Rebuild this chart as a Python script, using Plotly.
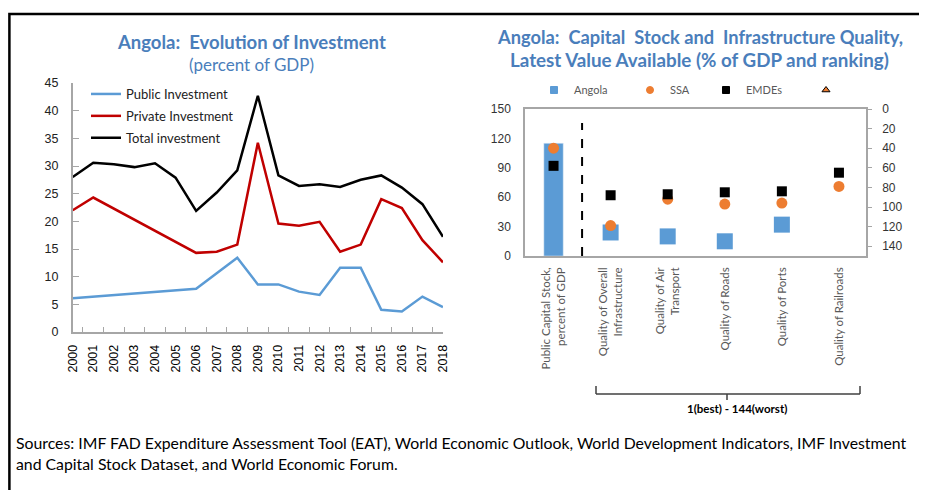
import plotly.graph_objects as go

W, H = 927, 490
OFF = 8  # page body margin

# ---------------- data ----------------
years = [str(y) for y in range(2000, 2019)]
public_inv = [6.1, None, None, None, None, None, 7.8, 10.6, 13.4, 8.6, 8.6, 7.3, 6.7, 11.6, 11.6, 4.0, 3.7, 6.4, 4.5]
private_inv = [22.0, 24.3, None, None, None, None, 14.3, 14.5, 15.8, 34.2, 19.6, 19.2, 19.9, 14.5, 15.8, 24.0, 22.4, 16.6, 12.6]
total_inv = [28.0, 30.6, 30.3, 29.8, 30.5, 27.9, 21.9, 25.2, 29.2, 42.7, 28.3, 26.4, 26.7, 26.2, 27.5, 28.3, 26.1, 23.1, 17.2]

infra_cats = ["Public Capital Stock,<br>percent of GDP", "Quality of Overall<br>Infrastructure",
              "Quality of Air<br>Transport", "Quality of Roads", "Quality of Ports", "Quality of Railroads"]
stock_angola = [115]
stock_ssa = [110]
stock_emdes = [92]
rank_angola = [126, 130, 135, 118, None]
rank_ssa = [119, 92, 97, 96, 79]
rank_emdes = [88, 87, 85, 84, 65]

left_ticks = list(range(0, 46, 5))
right_left_ticks = list(range(0, 151, 30))
right_rank_ticks = list(range(0, 141, 20))

# ---------------- helpers ----------------
def px(x):
    return (x - OFF) / W

def py(y):
    return 1 - (y - OFF) / H

BLUE = "#5B9BD5"
RED = "#C00000"
ORANGE = "#ED7D31"
TITLE = "#4A7EBB"
AXIS = "#A6A6A6"
HUM = "Lato, Noto Sans, sans-serif"
SANS = "Liberation Sans, Arial, sans-serif"

fig = go.Figure()

# ---------------- left chart ----------------
fig.add_trace(go.Scatter(x=years, y=public_inv, name="Public Investment", mode="lines",
                         line=dict(color=BLUE, width=2.5), connectgaps=True,
                         xaxis="x", yaxis="y", legend="legend", legendgroup="a"))
fig.add_trace(go.Scatter(x=years, y=private_inv, name="Private Investment", mode="lines",
                         line=dict(color=RED, width=2.5), connectgaps=True,
                         xaxis="x", yaxis="y", legend="legend", legendgroup="b"))
fig.add_trace(go.Scatter(x=years, y=total_inv, name="Total investment", mode="lines",
                         line=dict(color="black", width=2.5), connectgaps=True,
                         xaxis="x", yaxis="y", legend="legend", legendgroup="c"))

# ---------------- right chart ----------------
fig.add_trace(go.Bar(x=infra_cats[:1], y=stock_angola, marker=dict(color=BLUE), width=0.34,
                     xaxis="x2", yaxis="y2", showlegend=False))
fig.add_trace(go.Scatter(x=infra_cats[1:], y=rank_angola, mode="markers",
                         marker=dict(symbol="square", size=16, color=BLUE),
                         xaxis="x2", yaxis="y3", showlegend=False))
fig.add_trace(go.Scatter(x=infra_cats[:1], y=stock_ssa, mode="markers",
                         marker=dict(symbol="circle", size=11, color=ORANGE),
                         xaxis="x2", yaxis="y2", showlegend=False))
fig.add_trace(go.Scatter(x=infra_cats[1:], y=rank_ssa, mode="markers",
                         marker=dict(symbol="circle", size=11, color=ORANGE),
                         xaxis="x2", yaxis="y3", showlegend=False))
fig.add_trace(go.Scatter(x=infra_cats[:1], y=stock_emdes, mode="markers",
                         marker=dict(symbol="square", size=10, color="black"),
                         xaxis="x2", yaxis="y2", showlegend=False))
fig.add_trace(go.Scatter(x=infra_cats[1:], y=rank_emdes, mode="markers",
                         marker=dict(symbol="square", size=10, color="black"),
                         xaxis="x2", yaxis="y3", showlegend=False))

# legend-only entries for the right chart, one small legend each
leg_items = [("Angola", "square", BLUE, None, 534), ("SSA", "circle", ORANGE, None, 630),
             ("EMDEs", "square", "black", None, 706), (" ", "triangle-up", ORANGE, "black", 806)]
legend_layouts = {}
for i, (nm, sym, col, ln, lx) in enumerate(leg_items):
    lid = "legend%d" % (i + 2)
    fig.add_trace(go.Scatter(x=[None], y=[None], mode="markers", name=nm,
                             marker=dict(symbol=sym, size=7, color=col,
                                         line=dict(color=ln or col, width=1)),
                             xaxis="x2", yaxis="y2", legend=lid))
    legend_layouts[lid] = dict(xref="container", yref="container", x=px(lx), y=py(90),
                               xanchor="left", yanchor="middle", bgcolor="rgba(0,0,0,0)",
                               font=dict(family=HUM, size=11, color="#595959"), itemwidth=30)

shapes = []
# outer frame (left edge sits at the very first pixels of the figure)
shapes.append(dict(type="rect", xref="paper", yref="paper", x0=1.4 / W, x1=1.05, y0=-0.05, y1=py(14),
                   line=dict(color="black", width=2.5)))
# dashed divider
shapes.append(dict(type="line", xref="x2", yref="paper", x0=0.5, x1=0.5, y0=py(256), y1=py(123),
                   line=dict(color="black", width=2, dash="dash")))
# bracket
bx0, bx1, by, bc = 596, 860, 394, 727
shapes.append(dict(type="line", xref="paper", yref="paper", x0=px(bx0), x1=px(bx1), y0=py(by), y1=py(by),
                   line=dict(color="#404040", width=1.5)))
shapes.append(dict(type="line", xref="paper", yref="paper", x0=px(bx0), x1=px(bx0), y0=py(by), y1=py(386),
                   line=dict(color="#404040", width=1.5)))
shapes.append(dict(type="line", xref="paper", yref="paper", x0=px(bx1), x1=px(bx1), y0=py(by), y1=py(386),
                   line=dict(color="#404040", width=1.5)))
shapes.append(dict(type="line", xref="paper", yref="paper", x0=px(bc), x1=px(bc), y0=py(by), y1=py(400),
                   line=dict(color="#404040", width=1.5)))

annotations = [
    dict(text="<b>Angola:  Evolution of Investment</b>", x=px(251), y=py(42), xref="paper", yref="paper",
         showarrow=False, font=dict(family=HUM, size=18.5, color=TITLE), xanchor="center", yanchor="middle"),
    dict(text="(percent of GDP)", x=px(251), y=py(64), xref="paper", yref="paper",
         showarrow=False, font=dict(family=HUM, size=17, color=TITLE), xanchor="center", yanchor="middle"),
    dict(text="<b>Angola:  Capital  Stock and  Infrastructure Quality,</b>", x=px(700), y=py(37),
         xref="paper", yref="paper", showarrow=False, font=dict(family=HUM, size=18.3, color=TITLE),
         xanchor="center", yanchor="middle"),
    dict(text="<b>Latest Value Available (% of GDP and ranking)</b>", x=px(699), y=py(60),
         xref="paper", yref="paper", showarrow=False, font=dict(family=HUM, size=18.8, color=TITLE),
         xanchor="center", yanchor="middle"),
    dict(text="<b>1(best) - 144(worst)</b>", x=px(737), y=py(408), xref="paper", yref="paper",
         showarrow=False, font=dict(family=HUM, size=11.5, color="black"), xanchor="center", yanchor="middle"),
    dict(text="Sources: IMF FAD Expenditure Assessment Tool (EAT), World Economic Outlook, World Development Indicators, IMF Investment<br>"
              "and Capital Stock Dataset, and World Economic Forum.",
         x=px(14), y=py(431), xref="paper", yref="paper", showarrow=False, align="left",
         font=dict(family=HUM, size=15.8, color="black"), xanchor="left", yanchor="top"),
]

fig.update_layout(
    width=W, height=H, autosize=False,
    margin=dict(l=0, r=0, t=0, b=0, autoexpand=False),
    paper_bgcolor="white", plot_bgcolor="white",
    xaxis=dict(domain=[px(72.7), px(443)], anchor="y", type="category", categoryorder="array",
               categoryarray=years, tickangle=-90, ticks="inside", ticklen=5, tickcolor=AXIS,
               tickson="boundaries", showline=True, linecolor=AXIS, linewidth=1.5, showgrid=False,
               tickfont=dict(family=SANS, size=12.5, color="black"), ticklabelstandoff=6, zeroline=False),
    yaxis=dict(domain=[py(332), py(83)], anchor="x", range=[0, 45], tickvals=left_ticks,
               ticks="inside", ticklen=7, tickcolor=AXIS, showline=True, linecolor=AXIS, linewidth=1.5,
               showgrid=False, zeroline=False, tickfont=dict(family=SANS, size=12.5, color="#222"),
               ticklabelstandoff=10),
    xaxis2=dict(domain=[px(525), px(866)], anchor="y2", type="category", categoryorder="array",
                categoryarray=infra_cats, tickangle=-90, ticks="", showline=True, mirror=True,
                linecolor=AXIS, linewidth=1.5, showgrid=False, zeroline=False,
                tickfont=dict(family=HUM, size=11.5, color="#595959"), ticklabelstandoff=5),
    yaxis2=dict(domain=[py(256), py(109)], anchor="x2", range=[0, 150], tickvals=right_left_ticks,
                ticks="", showline=True, mirror=True, linecolor=AXIS, linewidth=1.5, showgrid=False,
                zeroline=False, tickfont=dict(family=SANS, size=12, color="#333"), ticklabelstandoff=10),
    yaxis3=dict(overlaying="y2", side="right", anchor="x2", range=[150, 0], tickvals=right_rank_ticks,
                ticks="outside", ticklen=4, tickcolor=AXIS, showline=True, linecolor=AXIS, linewidth=1.5,
                showgrid=False, zeroline=False, tickfont=dict(family=SANS, size=12, color="#333"),
                ticklabelstandoff=8),
    legend=dict(xref="container", yref="container", x=px(86), y=py(79), xanchor="left", yanchor="top",
                bgcolor="rgba(0,0,0,0)", font=dict(family=HUM, size=13, color="#222"),
                tracegroupgap=2, itemwidth=30),
    shapes=shapes,
    annotations=annotations,
)
fig.update_layout(**legend_layouts)

fig.write_html("out.html")
